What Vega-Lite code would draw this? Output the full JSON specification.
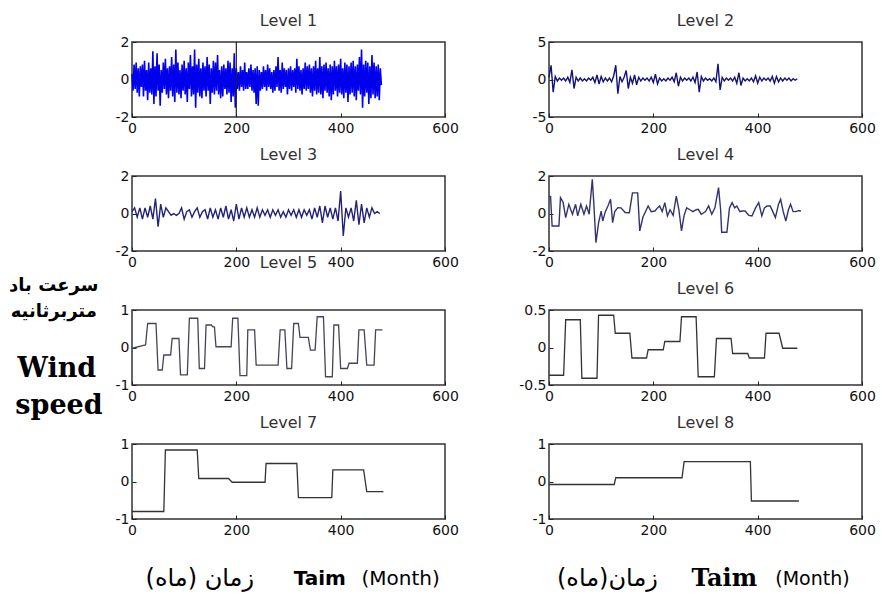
{
"$schema": "https://vega.github.io/schema/vega-lite/v6.json",
"background": "white",
"padding": {"left": 8, "top": 12, "right": 5, "bottom": 5},
"columns": 2,
"bounds": "flush",
"spacing": {"row": 59, "column": 104},
"config": {
  "view": {"stroke": "#333", "strokeWidth": 1.5},
  "axis": {"domain": false, "grid": false, "tickSize": -4, "tickColor": "#222", "labelFont": "DejaVu Sans", "labelFontSize": 14, "labelColor": "#111", "labelPadding": 7, "labelFlush": false, "labelOverlap": false, "labelExpr": "'' + datum.value"},
  "axisX": {"labelPadding": 8},
  "title": {"font": "DejaVu Sans", "fontSize": 16, "fontWeight": "normal", "color": "#333", "offset": 6}
},
"concat": [
{
  "title": "Level 1", "width": 313, "height": 75,
  "encoding": {
    "x": {"field": "x", "type": "quantitative", "title": null, "scale": {"domain": [0, 600], "nice": false}, "axis": {"values": [0, 200, 400, 600]}},
    "y": {"field": "y", "type": "quantitative", "title": null, "scale": {"domain": [-2, 2], "nice": false, "zero": false}, "axis": {"values": [-2, 0, 2]}}
  },
  "layer": [
    {"data": {"values": [{"x":0,"y":0.3},{"x":2,"y":-0.6},{"x":4,"y":0.8},{"x":6,"y":-0.5},{"x":8,"y":0.9},{"x":10,"y":-0.7},{"x":12,"y":0.6},{"x":14,"y":-0.9},{"x":16,"y":0.7},{"x":18,"y":-0.4},
{"x":20,"y":0.8},{"x":22,"y":-0.9},{"x":24,"y":1.0},{"x":26,"y":-0.6},{"x":28,"y":0.5},{"x":30,"y":-1.1},{"x":32,"y":0.9},{"x":34,"y":-0.7},{"x":36,"y":0.6},{"x":38,"y":-0.8},
{"x":40,"y":1.5},{"x":42,"y":-1.3},{"x":44,"y":0.7},{"x":46,"y":-0.9},{"x":48,"y":1.4},{"x":50,"y":-0.6},{"x":52,"y":0.8},{"x":54,"y":-1.4},{"x":56,"y":0.5},{"x":58,"y":-0.7},
{"x":60,"y":0.9},{"x":62,"y":-0.5},{"x":64,"y":1.1},{"x":66,"y":-0.8},{"x":68,"y":0.6},{"x":70,"y":-1.0},{"x":72,"y":0.7},{"x":74,"y":-0.6},{"x":76,"y":1.2},{"x":78,"y":-0.9},
{"x":80,"y":0.8},{"x":82,"y":-1.2},{"x":84,"y":1.6},{"x":86,"y":-0.7},{"x":88,"y":0.9},{"x":90,"y":-0.8},{"x":92,"y":0.5},{"x":94,"y":-1.0},{"x":96,"y":0.8},{"x":98,"y":-0.6},
{"x":100,"y":1.0},{"x":102,"y":-0.8},{"x":104,"y":0.6},{"x":106,"y":-1.2},{"x":108,"y":0.9},{"x":110,"y":-0.5},{"x":112,"y":1.3},{"x":114,"y":-0.9},{"x":116,"y":0.7},{"x":118,"y":-0.8},
{"x":120,"y":1.6},{"x":122,"y":-1.5},{"x":124,"y":0.8},{"x":126,"y":-0.7},{"x":128,"y":1.1},{"x":130,"y":-0.9},{"x":132,"y":0.6},{"x":134,"y":-1.0},{"x":136,"y":0.9},{"x":138,"y":-0.6},
{"x":140,"y":0.7},{"x":142,"y":-0.9},{"x":144,"y":1.2},{"x":146,"y":-0.6},{"x":148,"y":0.8},{"x":150,"y":-1.3},{"x":152,"y":0.6},{"x":154,"y":-0.7},{"x":156,"y":1.0},{"x":158,"y":-0.8},
{"x":160,"y":0.9},{"x":162,"y":-0.6},{"x":164,"y":1.3},{"x":166,"y":-0.8},{"x":168,"y":0.5},{"x":170,"y":-1.0},{"x":172,"y":0.7},{"x":174,"y":-0.9},{"x":176,"y":0.8},{"x":178,"y":-0.5},
{"x":180,"y":0.6},{"x":182,"y":-0.8},{"x":184,"y":1.0},{"x":186,"y":-0.7},{"x":188,"y":0.9},{"x":190,"y":-1.2},{"x":192,"y":0.6},{"x":194,"y":-0.9},{"x":196,"y":1.4},{"x":198,"y":-1.5},
{"x":200,"y":0.6},{"x":202,"y":-0.5},{"x":204,"y":0.4},{"x":206,"y":-0.6},{"x":208,"y":0.7},{"x":210,"y":-0.4},{"x":212,"y":0.5},{"x":214,"y":-0.6},{"x":216,"y":0.9},{"x":218,"y":-0.5},
{"x":220,"y":0.4},{"x":222,"y":-0.5},{"x":224,"y":0.6},{"x":226,"y":-0.4},{"x":228,"y":0.8},{"x":230,"y":-0.6},{"x":232,"y":0.5},{"x":234,"y":-0.7},{"x":236,"y":0.6},{"x":238,"y":-1.3},
{"x":240,"y":0.7},{"x":242,"y":-1.4},{"x":244,"y":0.5},{"x":246,"y":-0.6},{"x":248,"y":0.4},{"x":250,"y":-0.5},{"x":252,"y":0.7},{"x":254,"y":-0.4},{"x":256,"y":0.5},{"x":258,"y":-0.6},
{"x":260,"y":0.8},{"x":262,"y":-0.4},{"x":264,"y":0.6},{"x":266,"y":-0.5},{"x":268,"y":0.4},{"x":270,"y":-0.7},{"x":272,"y":0.5},{"x":274,"y":-0.6},{"x":276,"y":0.7},{"x":278,"y":-0.4},
{"x":280,"y":1.2},{"x":282,"y":-0.6},{"x":284,"y":0.5},{"x":286,"y":-0.7},{"x":288,"y":0.9},{"x":290,"y":-0.5},{"x":292,"y":0.6},{"x":294,"y":-0.4},{"x":296,"y":0.5},{"x":298,"y":-0.8},
{"x":300,"y":0.6},{"x":302,"y":-0.5},{"x":304,"y":0.7},{"x":306,"y":-0.6},{"x":308,"y":0.5},{"x":310,"y":-0.4},{"x":312,"y":0.6},{"x":314,"y":-0.7},{"x":316,"y":1.1},{"x":318,"y":-0.5},
{"x":320,"y":0.7},{"x":322,"y":-0.6},{"x":324,"y":0.5},{"x":326,"y":-0.8},{"x":328,"y":0.6},{"x":330,"y":-0.5},{"x":332,"y":0.9},{"x":334,"y":-0.6},{"x":336,"y":0.7},{"x":338,"y":-0.5},
{"x":340,"y":0.8},{"x":342,"y":-0.7},{"x":344,"y":0.6},{"x":346,"y":-0.9},{"x":348,"y":0.7},{"x":350,"y":-0.6},{"x":352,"y":1.0},{"x":354,"y":-0.8},{"x":356,"y":0.6},{"x":358,"y":-0.7},
{"x":360,"y":1.2},{"x":362,"y":-0.8},{"x":364,"y":0.7},{"x":366,"y":-1.0},{"x":368,"y":0.8},{"x":370,"y":-0.6},{"x":372,"y":0.9},{"x":374,"y":-0.7},{"x":376,"y":0.6},{"x":378,"y":-0.9},
{"x":380,"y":0.8},{"x":382,"y":-1.1},{"x":384,"y":0.7},{"x":386,"y":-0.8},{"x":388,"y":1.0},{"x":390,"y":-0.6},{"x":392,"y":0.7},{"x":394,"y":-0.9},{"x":396,"y":0.8},{"x":398,"y":-0.7},
{"x":400,"y":1.1},{"x":402,"y":-0.8},{"x":404,"y":0.6},{"x":406,"y":-1.0},{"x":408,"y":0.9},{"x":410,"y":-0.7},{"x":412,"y":0.8},{"x":414,"y":-1.2},{"x":416,"y":0.7},{"x":418,"y":-0.8},
{"x":420,"y":0.9},{"x":422,"y":-0.7},{"x":424,"y":1.0},{"x":426,"y":-0.9},{"x":428,"y":0.7},{"x":430,"y":-1.1},{"x":432,"y":0.8},{"x":434,"y":-0.6},{"x":436,"y":1.2},{"x":438,"y":-0.8},
{"x":440,"y":1.6},{"x":442,"y":-1.5},{"x":444,"y":0.8},{"x":446,"y":-0.9},{"x":448,"y":1.0},{"x":450,"y":-0.7},{"x":452,"y":0.9},{"x":454,"y":-1.3},{"x":456,"y":0.7},{"x":458,"y":-1.0},
{"x":460,"y":1.3},{"x":462,"y":-0.8},{"x":464,"y":0.9},{"x":466,"y":-1.0},{"x":468,"y":0.7},{"x":470,"y":-0.9},{"x":472,"y":0.8},{"x":474,"y":-1.1},{"x":476,"y":0.6},{"x":478,"y":-0.3}]},
     "mark": {"type": "line", "color": "#0000ee", "strokeWidth": 1.6}},
    {"data": {"values": [{"x": 200, "y": -2}, {"x": 200, "y": 2}]}, "mark": {"type": "line", "color": "#222", "strokeWidth": 1.2}}
  ]
},
{
  "title": "Level 2", "width": 313, "height": 75,
  "encoding": {
    "x": {"field": "x", "type": "quantitative", "title": null, "scale": {"domain": [0, 600], "nice": false}, "axis": {"values": [0, 200, 400, 600]}},
    "y": {"field": "y", "type": "quantitative", "title": null, "scale": {"domain": [-5, 5], "nice": false, "zero": false}, "axis": {"values": [-5, 0, 5]}}
  },
  "layer": [
    {"data": {"values": [{"x":0,"y":0.3},{"x":4,"y":1.9},{"x":8,"y":-1.7},{"x":12,"y":0.4},{"x":16,"y":-0.2},{"x":20,"y":0.2},{"x":24,"y":-0.1},{"x":28,"y":0.2},{"x":32,"y":-0.2},{"x":36,"y":0.3},
{"x":40,"y":-0.4},{"x":44,"y":1.3},{"x":48,"y":-1.2},{"x":52,"y":0.3},{"x":56,"y":-0.2},{"x":60,"y":0.2},{"x":64,"y":-0.2},{"x":68,"y":0.1},{"x":72,"y":-0.2},{"x":76,"y":0.2},
{"x":80,"y":-0.1},{"x":84,"y":0.3},{"x":88,"y":-0.4},{"x":92,"y":0.6},{"x":96,"y":-0.6},{"x":100,"y":0.4},{"x":104,"y":-0.3},{"x":108,"y":0.2},{"x":112,"y":-0.2},{"x":116,"y":0.2},
{"x":120,"y":-0.3},{"x":124,"y":0.5},{"x":128,"y":1.9},{"x":132,"y":-1.9},{"x":136,"y":0.4},{"x":140,"y":-0.3},{"x":144,"y":0.3},{"x":148,"y":1.2},{"x":152,"y":-1.2},{"x":156,"y":0.3},
{"x":160,"y":-0.5},{"x":164,"y":0.6},{"x":168,"y":-0.7},{"x":172,"y":0.3},{"x":176,"y":-0.2},{"x":180,"y":0.2},{"x":184,"y":-0.1},{"x":188,"y":0.2},{"x":192,"y":-0.2},{"x":196,"y":0.3},
{"x":200,"y":-0.4},{"x":204,"y":0.7},{"x":208,"y":-0.6},{"x":212,"y":0.2},{"x":216,"y":-0.2},{"x":220,"y":0.1},{"x":224,"y":-0.2},{"x":228,"y":0.2},{"x":232,"y":-0.1},{"x":236,"y":0.3},
{"x":240,"y":-0.3},{"x":244,"y":0.9},{"x":248,"y":-0.9},{"x":252,"y":0.3},{"x":256,"y":-0.2},{"x":260,"y":0.2},{"x":264,"y":-0.1},{"x":268,"y":0.2},{"x":272,"y":-0.2},{"x":276,"y":0.3},
{"x":280,"y":-0.4},{"x":284,"y":1.0},{"x":288,"y":-1.7},{"x":292,"y":0.4},{"x":296,"y":-0.2},{"x":300,"y":0.2},{"x":304,"y":-0.1},{"x":308,"y":0.1},{"x":312,"y":-0.2},{"x":316,"y":0.2},
{"x":320,"y":-0.3},{"x":324,"y":2.1},{"x":328,"y":-1.4},{"x":332,"y":0.3},{"x":336,"y":-0.2},{"x":340,"y":0.2},{"x":344,"y":-0.1},{"x":348,"y":0.2},{"x":352,"y":-0.2},{"x":356,"y":0.3},
{"x":360,"y":-0.5},{"x":364,"y":0.9},{"x":368,"y":-0.8},{"x":372,"y":0.2},{"x":376,"y":-0.2},{"x":380,"y":0.1},{"x":384,"y":-0.2},{"x":388,"y":0.2},{"x":392,"y":-0.3},{"x":396,"y":0.5},
{"x":400,"y":-0.5},{"x":404,"y":0.3},{"x":408,"y":-0.2},{"x":412,"y":0.2},{"x":416,"y":-0.1},{"x":420,"y":0.2},{"x":424,"y":-0.2},{"x":428,"y":0.4},{"x":432,"y":-0.5},{"x":436,"y":0.4},
{"x":440,"y":-0.3},{"x":444,"y":0.2},{"x":448,"y":-0.2},{"x":452,"y":0.2},{"x":456,"y":-0.1},{"x":460,"y":0.2},{"x":464,"y":-0.2},{"x":468,"y":0.1},{"x":472,"y":-0.1},{"x":476,"y":0.1}]},
     "mark": {"type": "line", "color": "#12127a", "strokeWidth": 1.4}}
  ]
},
{
  "title": "Level 3", "width": 313, "height": 75,
  "encoding": {
    "x": {"field": "x", "type": "quantitative", "title": null, "scale": {"domain": [0, 600], "nice": false}, "axis": {"values": [0, 200, 400, 600]}},
    "y": {"field": "y", "type": "quantitative", "title": null, "scale": {"domain": [-2, 2], "nice": false, "zero": false}, "axis": {"values": [-2, 0, 2]}}
  },
  "layer": [
    {"data": {"values": [{"x":0,"y":0.1},{"x":5,"y":0.3},{"x":10,"y":-0.2},{"x":15,"y":0.3},{"x":20,"y":-0.3},{"x":25,"y":0.3},{"x":30,"y":-0.2},{"x":35,"y":0.4},{"x":40,"y":-0.3},{"x":45,"y":0.8},
{"x":50,"y":-0.7},{"x":55,"y":0.5},{"x":60,"y":-0.2},{"x":65,"y":0.3},{"x":70,"y":0.1},{"x":75,"y":-0.1},{"x":80,"y":0.0},{"x":85,"y":-0.1},{"x":90,"y":0.0},{"x":95,"y":0.3},
{"x":100,"y":-0.3},{"x":105,"y":0.1},{"x":110,"y":0.2},{"x":115,"y":-0.2},{"x":120,"y":0.1},{"x":125,"y":0.3},{"x":130,"y":-0.2},{"x":135,"y":0.1},{"x":140,"y":0.2},{"x":145,"y":-0.3},
{"x":150,"y":0.3},{"x":155,"y":-0.2},{"x":160,"y":0.2},{"x":165,"y":-0.3},{"x":170,"y":0.3},{"x":175,"y":-0.2},{"x":180,"y":0.4},{"x":185,"y":-0.3},{"x":190,"y":0.2},{"x":195,"y":-0.4},
{"x":200,"y":0.5},{"x":205,"y":-0.3},{"x":210,"y":0.3},{"x":215,"y":-0.2},{"x":220,"y":0.3},{"x":225,"y":-0.2},{"x":230,"y":0.2},{"x":235,"y":-0.2},{"x":240,"y":0.3},{"x":245,"y":-0.2},
{"x":250,"y":0.2},{"x":255,"y":-0.1},{"x":260,"y":0.2},{"x":265,"y":-0.2},{"x":270,"y":0.2},{"x":275,"y":-0.1},{"x":280,"y":0.2},{"x":285,"y":-0.2},{"x":290,"y":0.1},{"x":295,"y":-0.2},
{"x":300,"y":0.2},{"x":305,"y":-0.1},{"x":310,"y":0.2},{"x":315,"y":-0.2},{"x":320,"y":0.2},{"x":325,"y":-0.2},{"x":330,"y":0.2},{"x":335,"y":-0.1},{"x":340,"y":0.2},{"x":345,"y":-0.3},
{"x":350,"y":0.3},{"x":355,"y":-0.2},{"x":360,"y":0.4},{"x":365,"y":-0.5},{"x":370,"y":0.4},{"x":375,"y":-0.2},{"x":380,"y":0.3},{"x":385,"y":-0.3},{"x":390,"y":0.3},{"x":395,"y":-0.4},
{"x":400,"y":1.2},{"x":405,"y":-1.2},{"x":410,"y":0.3},{"x":415,"y":-0.2},{"x":420,"y":0.3},{"x":425,"y":-0.4},{"x":430,"y":0.7},{"x":435,"y":-0.6},{"x":440,"y":0.5},{"x":445,"y":-0.5},
{"x":450,"y":0.3},{"x":455,"y":-0.2},{"x":460,"y":0.3},{"x":465,"y":0.0},{"x":470,"y":0.1},{"x":475,"y":0.0}]},
     "mark": {"type": "line", "color": "#22227a", "strokeWidth": 1.4}}
  ]
},
{
  "title": "Level 4", "width": 313, "height": 75,
  "encoding": {
    "x": {"field": "x", "type": "quantitative", "title": null, "scale": {"domain": [0, 600], "nice": false}, "axis": {"values": [0, 200, 400, 600]}},
    "y": {"field": "y", "type": "quantitative", "title": null, "scale": {"domain": [-2, 2], "nice": false, "zero": false}, "axis": {"values": [-2, 0, 2]}}
  },
  "layer": [
    {"data": {"values": [{"x":0,"y":0.93},{"x":3,"y":0.9},{"x":6,"y":-0.67},{"x":19,"y":-0.67},{"x":22,"y":0.84},{"x":27,"y":0.6},{"x":32,"y":-0.22},{"x":38,"y":0.49},{"x":45,"y":-0.04},{"x":51,"y":0.49},
{"x":55,"y":-0.13},{"x":61,"y":0.49},{"x":67,"y":-0.04},{"x":72,"y":0.4},{"x":77,"y":-0.04},{"x":83,"y":1.82},{"x":86,"y":0.5},{"x":90,"y":-1.56},{"x":95,"y":-0.5},{"x":100,"y":0.13},
{"x":103,"y":-0.4},{"x":108,"y":0.1},{"x":113,"y":0.4},{"x":118,"y":0.76},{"x":122,"y":-0.49},{"x":126,"y":0.1},{"x":132,"y":0.31},{"x":138,"y":0.3},{"x":146,"y":0.05},{"x":154,"y":0.04},
{"x":160,"y":1.1},{"x":170,"y":1.1},{"x":174,"y":-0.93},{"x":180,"y":-0.2},{"x":190,"y":0.4},{"x":196,"y":0.1},{"x":203,"y":0.13},{"x":208,"y":0.3},{"x":212,"y":0.4},{"x":217,"y":0.1},
{"x":222,"y":0.58},{"x":227,"y":-0.13},{"x":232,"y":0.2},{"x":238,"y":-0.1},{"x":244,"y":0.93},{"x":249,"y":0.2},{"x":254,"y":-0.93},{"x":259,"y":-0.1},{"x":264,"y":0.3},{"x":270,"y":0.2},
{"x":276,"y":0.1},{"x":282,"y":0.2},{"x":286,"y":0.22},{"x":292,"y":-0.04},{"x":300,"y":0.1},{"x":306,"y":0.4},{"x":312,"y":-0.04},{"x":318,"y":0.3},{"x":325,"y":1.38},{"x":329,"y":0.2},
{"x":331,"y":-1.0},{"x":341,"y":-1.0},{"x":346,"y":0.3},{"x":351,"y":0.58},{"x":356,"y":0.3},{"x":360,"y":0.4},{"x":366,"y":0.1},{"x":370,"y":0.13},{"x":376,"y":0.13},{"x":383,"y":-0.1},
{"x":389,"y":-0.13},{"x":396,"y":0.3},{"x":402,"y":0.58},{"x":408,"y":-0.13},{"x":413,"y":0.3},{"x":418,"y":0.4},{"x":424,"y":0.4},{"x":429,"y":0.1},{"x":434,"y":-0.22},{"x":440,"y":0.5},
{"x":444,"y":0.76},{"x":449,"y":0.1},{"x":454,"y":-0.4},{"x":459,"y":0.2},{"x":463,"y":0.49},{"x":468,"y":0.1},{"x":473,"y":0.1},{"x":478,"y":0.15},{"x":483,"y":0.13}]},
     "mark": {"type": "line", "color": "#33336e", "strokeWidth": 1.4}}
  ]
},
{
  "title": "Level 5", "width": 313, "height": 75,
  "encoding": {
    "x": {"field": "x", "type": "quantitative", "title": null, "scale": {"domain": [0, 600], "nice": false}, "axis": {"values": [0, 200, 400, 600]}},
    "y": {"field": "y", "type": "quantitative", "title": null, "scale": {"domain": [-1, 1], "nice": false, "zero": false}, "axis": {"values": [-1, 0, 1]}}
  },
  "layer": [
    {"data": {"values": [{"x":1,"y":-0.02},{"x":20,"y":0.05},{"x":26,"y":0.07},{"x":30,"y":0.64},{"x":46,"y":0.64},{"x":50,"y":-0.6},{"x":58,"y":-0.6},{"x":61,"y":-0.2},{"x":74,"y":-0.2},{"x":77,"y":0.24},
{"x":90,"y":0.24},{"x":93,"y":-0.73},{"x":106,"y":-0.73},{"x":110,"y":0.78},{"x":126,"y":0.78},{"x":129,"y":-0.56},{"x":139,"y":-0.56},{"x":142,"y":0.6},{"x":152,"y":0.6},{"x":155,"y":0.55},
{"x":158,"y":0.55},{"x":161,"y":0.02},{"x":190,"y":0.02},{"x":193,"y":0.78},{"x":203,"y":0.78},{"x":207,"y":-0.75},{"x":220,"y":-0.75},{"x":222,"y":0.47},{"x":235,"y":0.47},{"x":238,"y":-0.47},
{"x":280,"y":-0.47},{"x":284,"y":0.47},{"x":293,"y":0.47},{"x":297,"y":-0.56},{"x":306,"y":-0.56},{"x":310,"y":0.64},{"x":319,"y":0.64},{"x":322,"y":0.27},{"x":338,"y":0.27},{"x":342,"y":-0.07},
{"x":351,"y":-0.07},{"x":355,"y":0.82},{"x":367,"y":0.82},{"x":371,"y":-0.78},{"x":384,"y":-0.78},{"x":387,"y":0.6},{"x":396,"y":0.6},{"x":400,"y":-0.56},{"x":413,"y":-0.56},{"x":416,"y":-0.42},
{"x":432,"y":-0.42},{"x":435,"y":0.47},{"x":445,"y":0.47},{"x":450,"y":-0.47},{"x":464,"y":-0.47},{"x":467,"y":0.47},{"x":480,"y":0.47}]},
     "mark": {"type": "line", "color": "#44445a", "strokeWidth": 1.3}},
    {"data": {"values": [{"x": -150, "y": 1.65, "t": "سرعت باد"}, {"x": -150, "y": 0.95, "t": "متربرثانیه"}]},
     "mark": {"type": "text", "font": "DejaVu Sans", "fontWeight": "bold", "fontSize": 18, "color": "#000", "align": "center", "baseline": "middle"},
     "encoding": {"text": {"field": "t"}}},
    {"data": {"values": [{"x": -144, "y": -0.57, "t": "Wind"}, {"x": -140, "y": -1.57, "t": "speed"}]},
     "mark": {"type": "text", "font": "DejaVu Serif", "fontWeight": "bold", "fontSize": 27, "color": "#000", "align": "center", "baseline": "middle"},
     "encoding": {"text": {"field": "t"}}}
  ]
},
{
  "title": "Level 6", "width": 313, "height": 75,
  "encoding": {
    "x": {"field": "x", "type": "quantitative", "title": null, "scale": {"domain": [0, 600], "nice": false}, "axis": {"values": [0, 200, 400, 600]}},
    "y": {"field": "y", "type": "quantitative", "title": null, "scale": {"domain": [-0.5, 0.5], "nice": false, "zero": false}, "axis": {"values": [-0.5, 0, 0.5]}}
  },
  "layer": [
    {"data": {"values": [{"x":0,"y":-0.37},{"x":28,"y":-0.37},{"x":32,"y":0.37},{"x":60,"y":0.37},{"x":63,"y":-0.41},{"x":92,"y":-0.41},{"x":95,"y":0.43},{"x":124,"y":0.43},{"x":127,"y":0.19},{"x":155,"y":0.19},
{"x":159,"y":-0.14},{"x":187,"y":-0.14},{"x":190,"y":-0.03},{"x":219,"y":-0.03},{"x":222,"y":0.08},{"x":251,"y":0.08},{"x":254,"y":0.41},{"x":282,"y":0.41},{"x":286,"y":-0.39},{"x":317,"y":-0.39},
{"x":321,"y":0.12},{"x":349,"y":0.12},{"x":352,"y":-0.08},{"x":381,"y":-0.08},{"x":384,"y":-0.14},{"x":413,"y":-0.14},{"x":416,"y":0.19},{"x":441,"y":0.19},{"x":448,"y":-0.01},{"x":476,"y":-0.01}]},
     "mark": {"type": "line", "color": "#333", "strokeWidth": 1.3}}
  ]
},
{
  "title": "Level 7", "width": 313, "height": 75,
  "encoding": {
    "x": {"field": "x", "type": "quantitative", "title": null, "scale": {"domain": [0, 600], "nice": false}, "axis": {"values": [0, 200, 400, 600]}},
    "y": {"field": "y", "type": "quantitative", "title": null, "scale": {"domain": [-1, 1], "nice": false, "zero": false}, "axis": {"values": [-1, 0, 1]}}
  },
  "layer": [
    {"data": {"values": [{"x":0,"y":-0.8},{"x":61,"y":-0.8},{"x":64,"y":0.84},{"x":125,"y":0.84},{"x":128,"y":0.08},{"x":185,"y":0.08},{"x":192,"y":-0.02},{"x":255,"y":-0.02},{"x":257,"y":0.48},{"x":316,"y":0.48},
{"x":319,"y":-0.43},{"x":383,"y":-0.43},{"x":385,"y":0.31},{"x":444,"y":0.31},{"x":450,"y":-0.27},{"x":482,"y":-0.27}]},
     "mark": {"type": "line", "color": "#333", "strokeWidth": 1.3}},
    {"data": {"values": [{"x": 130, "y": -2.6, "t": "زمان (ماه)"}]},
     "mark": {"type": "text", "font": "DejaVu Sans", "fontSize": 24, "color": "#000", "align": "center", "baseline": "middle"},
     "encoding": {"text": {"field": "t"}}},
    {"data": {"values": [{"x": 360, "y": -2.6, "t": "Taim"}]},
     "mark": {"type": "text", "font": "DejaVu Sans", "fontWeight": "bold", "fontSize": 20, "color": "#000", "align": "center", "baseline": "middle"},
     "encoding": {"text": {"field": "t"}}},
    {"data": {"values": [{"x": 515, "y": -2.6, "t": "(Month)"}]},
     "mark": {"type": "text", "font": "DejaVu Sans", "fontSize": 20, "color": "#000", "align": "center", "baseline": "middle"},
     "encoding": {"text": {"field": "t"}}}
  ]
},
{
  "title": "Level 8", "width": 313, "height": 75,
  "encoding": {
    "x": {"field": "x", "type": "quantitative", "title": null, "scale": {"domain": [0, 600], "nice": false}, "axis": {"values": [0, 200, 400, 600]}},
    "y": {"field": "y", "type": "quantitative", "title": null, "scale": {"domain": [-1, 1], "nice": false, "zero": false}, "axis": {"values": [-1, 0, 1]}}
  },
  "layer": [
    {"data": {"values": [{"x":0,"y":-0.08},{"x":125,"y":-0.08},{"x":128,"y":0.1},{"x":255,"y":0.1},{"x":259,"y":0.53},{"x":386,"y":0.53},{"x":388,"y":-0.52},{"x":479,"y":-0.52}]},
     "mark": {"type": "line", "color": "#333", "strokeWidth": 1.3}},
    {"data": {"values": [{"x": 112, "y": -2.6, "t": "زمان(ماه)"}]},
     "mark": {"type": "text", "font": "DejaVu Sans", "fontSize": 24, "color": "#000", "align": "center", "baseline": "middle"},
     "encoding": {"text": {"field": "t"}}},
    {"data": {"values": [{"x": 336, "y": -2.6, "t": "Taim"}]},
     "mark": {"type": "text", "font": "DejaVu Serif", "fontWeight": "bold", "fontSize": 24, "color": "#000", "align": "center", "baseline": "middle"},
     "encoding": {"text": {"field": "t"}}},
    {"data": {"values": [{"x": 505, "y": -2.6, "t": "(Month)"}]},
     "mark": {"type": "text", "font": "DejaVu Sans", "fontSize": 19, "color": "#000", "align": "center", "baseline": "middle"},
     "encoding": {"text": {"field": "t"}}}
  ]
}
]
}
